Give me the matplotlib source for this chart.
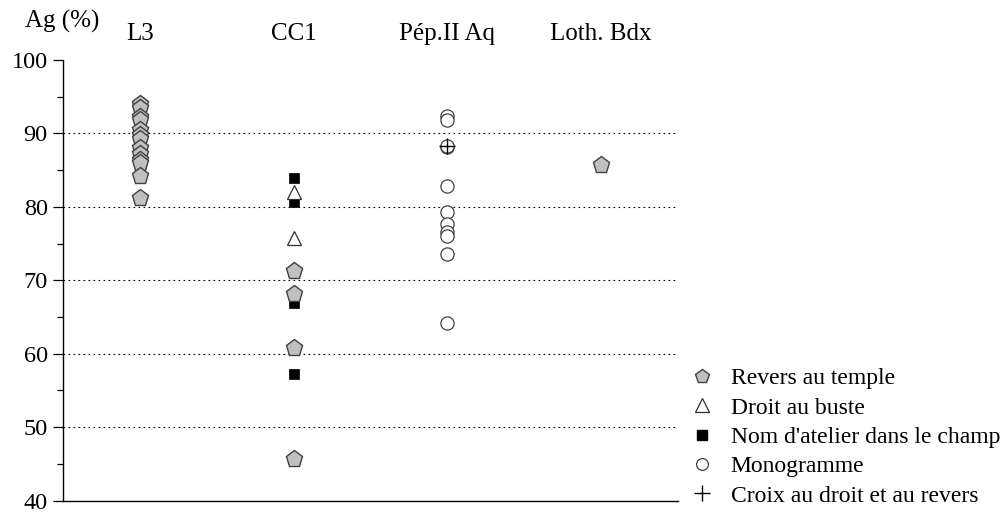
import matplotlib
matplotlib.use("Agg")
import matplotlib.pyplot as plt
from matplotlib.lines import Line2D

plt.rcParams['font.family'] = ['Liberation Serif', 'DejaVu Serif']

categories = ["L3", "CC1", "Pép.II Aq", "Loth. Bdx"]

# Revers au temple (pentagons)
temple_cat = [1]*13 + [2]*4 + [4]
temple_val = [94.0, 93.4, 92.2, 91.8, 90.4, 89.8, 89.2, 88.0, 87.2, 86.4, 86.0, 84.2, 81.2,
              71.2, 68.2, 60.8, 45.7,
              85.7]
# Droit au buste (triangles)
buste_cat = [2, 2]
buste_val = [82.0, 75.7]
# Nom d'atelier dans le champ (squares)
atelier_cat = [2, 2, 2, 2]
atelier_val = [83.9, 80.7, 66.9, 57.2]
# Monogramme (circles)
mono_cat = [3]*11
mono_val = [92.4, 91.8, 88.1, 82.8, 79.3, 77.7, 76.6, 76.1, 73.6, 64.2, 88.3]
# Croix au droit et au revers (plus)
croix_cat = [3]
croix_val = [88.3]

legend_labels = ["Revers au temple", "Droit au buste", "Nom d'atelier dans le champ",
                 "Monogramme", "Croix au droit et au revers"]

fig = plt.figure(figsize=(10.04, 5.14), dpi=100)
ax = fig.add_axes([0.0627, 0.026, 0.6125, 0.8573])

ax.set_xlim(0.5, 4.5)
ax.set_ylim(40, 100)

for y in [50, 60, 70, 80, 90]:
    ax.axhline(y, color='black', lw=0.8, ls=(0, (1.5, 3)), zorder=0)

ax.plot(temple_cat, temple_val, ls='none', marker='p', ms=12.5,
        mfc='#c0c0c0', mec='#404040', mew=1.0, zorder=3)
ax.plot(buste_cat, buste_val, ls='none', marker='^', ms=10.5,
        mfc='white', mec='#303030', mew=0.9, zorder=3)
ax.plot(atelier_cat, atelier_val, ls='none', marker='s', ms=7.5,
        mfc='black', mec='black', mew=0.5, zorder=2)
ax.plot(mono_cat, mono_val, ls='none', marker='o', ms=9.5,
        mfc='white', mec='#404040', mew=0.9, zorder=3)
ax.plot(croix_cat, croix_val, ls='none', marker='+', ms=12,
        mec='black', mew=1.0, zorder=4)

ax.spines['top'].set_visible(False)
ax.spines['right'].set_visible(False)
ax.spines['left'].set_linewidth(1.0)
ax.spines['bottom'].set_linewidth(1.0)

ax.set_yticks([40, 50, 60, 70, 80, 90, 100])
ax.set_yticks([45, 55, 65, 75, 85, 95], minor=True)
ax.tick_params(axis='y', which='major', direction='out', length=7, width=0.9,
               labelsize=17.5, pad=4)
ax.tick_params(axis='y', which='minor', direction='out', length=4, width=0.9)

ax.xaxis.tick_top()
ax.set_xticks([1, 2, 3, 4])
ax.set_xticklabels(categories)
ax.tick_params(axis='x', which='both', length=0, labelsize=18, pad=11)

ax.text(-0.002, 1.088, "Ag (%)", transform=ax.transAxes, fontsize=18,
        ha='center', va='center')

handles = [
    Line2D([], [], ls='none', marker='p', ms=10, mfc='#c0c0c0', mec='#404040', mew=1.0),
    Line2D([], [], ls='none', marker='^', ms=9.5, mfc='white', mec='#303030', mew=0.9),
    Line2D([], [], ls='none', marker='s', ms=7, mfc='black', mec='black'),
    Line2D([], [], ls='none', marker='o', ms=8.5, mfc='white', mec='#404040', mew=0.9),
    Line2D([], [], ls='none', marker='+', ms=11, mec='black', mew=1.0),
]
fig.legend(handles, legend_labels, loc='lower left', bbox_to_anchor=(0.676, -0.004),
           frameon=False, fontsize=17, handlelength=1.2, handletextpad=0.6,
           labelspacing=0.33, borderaxespad=0)

fig.savefig("out.png", dpi=100)
